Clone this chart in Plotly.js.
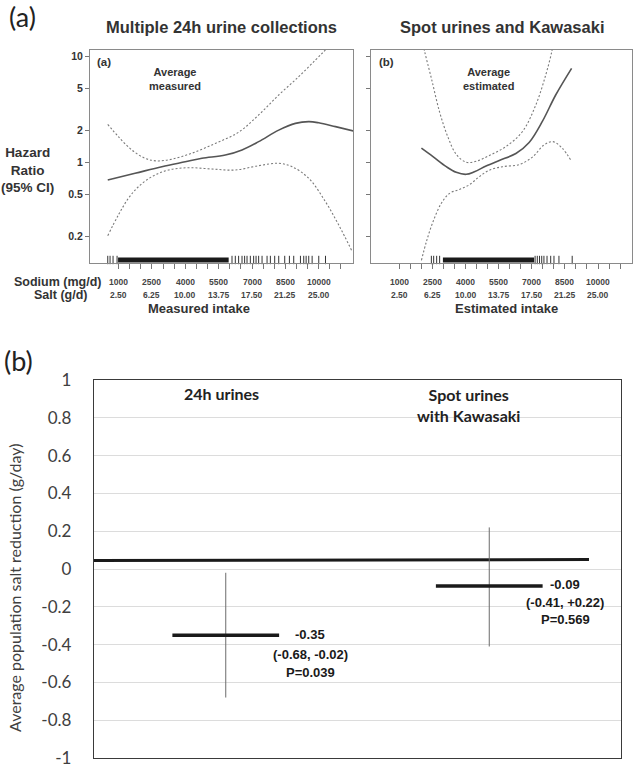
<!DOCTYPE html>
<html>
<head>
<meta charset="utf-8">
<script src="https://cdn.plot.ly/plotly-3.0.1.min.js"></script>
<style>html,body{margin:0;padding:0;background:#fff}#chart{width:634px;height:769px}</style>
</head>
<body>
<div id="chart"></div>
<script>
// ---------- Panel (a): hazard ratio splines ----------
const measSodium = [513, 1743, 2946, 3996, 4748, 5798, 6550, 7298, 8200, 8951, 9551, 10001, 10754, 11578];
const measHR     = [0.687, 0.794, 0.917, 1.02, 1.10, 1.18, 1.32, 1.58, 2.03, 2.35, 2.44, 2.38, 2.19, 1.99];
const measUpperX = [513, 991, 1595, 2194, 2721, 3397, 4298, 5347, 6397, 7298, 8200, 9100, 9852, 10303, 10800];
const measUpperHR= [2.30, 1.76, 1.32, 1.10, 1.04, 1.08, 1.23, 1.52, 1.94, 2.82, 4.35, 6.48, 9.3, 11.6, 15];
const measLowerX = [513, 991, 1441, 1892, 2496, 3243, 4145, 5199, 6248, 7298, 8200, 8802, 9551, 10303, 10901, 11506];
const measLowerHR= [0.205, 0.321, 0.461, 0.594, 0.738, 0.853, 0.897, 0.872, 0.853, 0.937, 0.987, 0.917, 0.713, 0.428, 0.258, 0.145];

const estSodium  = [2000, 2523, 3126, 3577, 4027, 4401, 4928, 5528, 6280, 6879, 7478, 8082, 8803];
const estHR      = [1.37, 1.14, 0.917, 0.811, 0.777, 0.822, 0.93, 1.05, 1.22, 1.55, 2.45, 4.35, 7.77];
const estUpperX  = [2080, 2149, 2450, 2824, 3198, 3577, 4027, 4478, 5077, 5829, 6577, 7181, 7631, 7902, 7980];
const estUpperHR = [13, 11.1, 6.25, 3.0, 1.75, 1.2, 1.01, 1.03, 1.17, 1.42, 1.97, 3.50, 6.72, 11.1, 14];
const estLowerX  = [2000, 2225, 2523, 2901, 3275, 3726, 4176, 4626, 5077, 5676, 6429, 7028, 7555, 7960, 8380, 8803];
const estLowerHR = [0.12, 0.18, 0.277, 0.414, 0.514, 0.56, 0.62, 0.74, 0.85, 0.917, 0.96, 1.13, 1.47, 1.58, 1.37, 1.03];

// rug of observations (mg/d): individual ticks and densely packed ranges
const measRugTicks = [513, 617, 752, 932, 6100, 6248, 6397, 6550, 6667, 6775, 6924, 7073, 7181, 7298, 7451,
                      7676, 7825, 8019, 8200, 8470, 8681, 8875, 9177, 9325, 9433, 9550, 9703, 10000, 10303];
const measRugDense = [977, 5950];
const estRugTicks  = [2450, 2554, 2690, 2825, 7150, 7250, 7350, 7450, 7550, 7690, 7856, 8005, 8230, 8830];
const estRugDense  = [2973, 7104];

const hrTickVals = [0.2, 0.5, 1, 2, 5, 10];
const hrTickText = ["0.2", "0.5", "1", "2", "5", "10"];
const sodiumMinorTicks = [1000,1500,2000,2500,3000,3500,4000,4500,5000,5500,6000,6500,7000,7500,8000,8500,9000,9500,10000,10500,11000];
const sodiumLabelVals = [1000, 2500, 4000, 5500, 7000, 8500, 10000];
const sodiumLabels = ["1000", "2500", "4000", "5500", "7000", "8500", "10000"];
const saltLabels = ["2.50", "6.25", "10.00", "13.75", "17.50", "21.25", "25.00"];

// ---------- Panel (b): average population salt reduction ----------
const groups = ["24h urines", "Spot urines<br>with Kawasaki"];
const groupPos = [1, 3];
const estimate = [-0.35, -0.09];
const ciLower = [-0.68, -0.41];
const ciUpper = [-0.02, 0.22];
const pValues = ["P=0.039", "P=0.569"];
const estLabels = ["-0.35", "-0.09"];
const ciLabels = ["(-0.68, -0.02)", "(-0.41, +0.22)"];
const refLineX = [0, 3.757];
const refLineY = [0.045, 0.05];
const reductionTicks = [1, 0.8, 0.6, 0.4, 0.2, 0, -0.2, -0.4, -0.6, -0.8, -1];
const reductionTickText = ["1", "0.8", "0.6", "0.4", "0.2", "0", "-0.2", "-0.4", "-0.6", "-0.8", "-1"];

// ---------- Layout geometry ----------
const W = 634, H = 769;
const px = v => v / W, py = v => 1 - v / H;
const HR_RANGE = [-0.946, 1.063];
const X_RANGE = [-285, 11540];
const rugY = Math.pow(10, HR_RANGE[0] + 3 / 106);

const ARIAL = "Arial, 'Liberation Sans', sans-serif";
const CAL = "Lato, 'Open Sans', sans-serif";
const solidLine = {color: "#555", width: 1.6, shape: "spline", smoothing: 1};
const dotLine = {color: "#7a7a7a", width: 1.1, dash: "2px,2px", shape: "spline", smoothing: 1};

function curve(x, y, xa, ya, line) {
  return {type: "scatter", mode: "lines", x: x, y: y, xaxis: xa, yaxis: ya, line: line, hoverinfo: "skip"};
}
function rug(ticks, dense, xa, ya) {
  return [
    {type: "scatter", mode: "markers", x: ticks, y: ticks.map(() => rugY), xaxis: xa, yaxis: ya,
     marker: {symbol: "line-ns", size: 6, line: {width: 1, color: "#333"}}, hoverinfo: "skip", cliponaxis: false},
    {type: "scatter", mode: "lines", x: dense, y: dense.map(() => rugY), xaxis: xa, yaxis: ya,
     line: {width: 5, color: "#1a1a1a"}, hoverinfo: "skip"}
  ];
}

const traces = [
  curve(measUpperX, measUpperHR, "x", "y", dotLine),
  curve(measLowerX, measLowerHR, "x", "y", dotLine),
  curve(measSodium, measHR, "x", "y", solidLine),
  ...rug(measRugTicks, measRugDense, "x", "y"),
  curve(estUpperX, estUpperHR, "x2", "y2", dotLine),
  curve(estLowerX, estLowerHR, "x2", "y2", dotLine),
  curve(estSodium, estHR, "x2", "y2", solidLine),
  ...rug(estRugTicks, estRugDense, "x2", "y2"),
  {type: "scatter", mode: "lines", x: refLineX, y: refLineY, xaxis: "x3", yaxis: "y3",
   line: {color: "#1a1a1a", width: 3}, hoverinfo: "skip"},
  {type: "scatter", mode: "markers", x: groupPos, y: estimate, xaxis: "x3", yaxis: "y3",
   marker: {size: 1, color: "rgba(0,0,0,0)"}, hoverinfo: "skip",
   error_y: {type: "data", symmetric: false,
             array: ciUpper.map((u, i) => u - estimate[i]),
             arrayminus: ciLower.map((l, i) => estimate[i] - l),
             color: "#6b6b6b", thickness: 1, width: 0},
   error_x: {type: "constant", value: 0.405, color: "#1a1a1a", thickness: 3.5, width: 0}}
];

const topAxisX = {
  range: X_RANGE, tickmode: "array", tickvals: sodiumMinorTicks, showticklabels: false,
  ticks: "outside", ticklen: 5, tickcolor: "#777", tickwidth: 1,
  showline: true, mirror: true, linecolor: "#8a8a8a", linewidth: 1,
  showgrid: false, zeroline: false, fixedrange: true
};
const topAxisY = {
  type: "log", range: HR_RANGE, tickmode: "array", tickvals: hrTickVals, ticktext: hrTickText,
  ticks: "outside", ticklen: 4, tickcolor: "#777",
  tickfont: {family: ARIAL, size: 10.5, color: "#333", weight: "bold"},
  showline: true, mirror: true, linecolor: "#8a8a8a", linewidth: 1,
  showgrid: false, zeroline: false, fixedrange: true
};

const ann = [];
function txt(text, x, y, size, opts) {
  ann.push(Object.assign({text: text, x: x, y: y, xref: "paper", yref: "paper", showarrow: false,
    xanchor: "center", yanchor: "middle",
    font: {family: ARIAL, size: size, color: "#333", weight: "bold"}}, opts || {}));
}
// panel letters
txt("(a)", px(22), py(17), 27, {font: {family: CAL, size: 27, color: "#222"}});
txt("(b)", px(18), py(360), 27, {font: {family: CAL, size: 27, color: "#222"}});
// top titles
txt("Multiple 24h urine collections", px(221.5), py(27), 16.5);
txt("Spot urines and Kawasaki", px(502), py(27), 16.5);
txt("Hazard<br>Ratio<br>(95% CI)", px(27), py(170), 13.5);
txt("(a)", px(95), py(62), 11.5, {xanchor: "left"});
txt("(b)", px(377), py(62), 11.5, {xanchor: "left"});
txt("Average<br>measured", px(175), py(79), 11);
txt("Average<br>estimated", px(488), py(79), 11);
txt("Sodium (mg/d)", px(58), py(282), 12.5);
txt("Salt (g/d)", px(60), py(295), 12.5);
txt("Measured intake", px(199), py(308), 13);
txt("Estimated intake", px(506), py(308), 13);
// x tick labels (two rows) for both top panels
["x", "x2"].forEach(xr => {
  sodiumLabelVals.forEach((v, i) => {
    ann.push({text: sodiumLabels[i], x: v, y: py(282), xref: xr, yref: "paper", showarrow: false,
      xanchor: "center", yanchor: "middle", font: {family: ARIAL, size: 8.5, color: "#444", weight: "bold"}});
    ann.push({text: saltLabels[i], x: v, y: py(295), xref: xr, yref: "paper", showarrow: false,
      xanchor: "center", yanchor: "middle", font: {family: ARIAL, size: 8.5, color: "#444", weight: "bold"}});
  });
});
// bottom panel
const groupLabelY = [0.926, 0.87];
groups.forEach((g, i) => {
  ann.push({text: g, x: [0.964, 2.84][i], y: groupLabelY[i], xref: "x3", yref: "y3", showarrow: false,
    xanchor: "center", yanchor: "middle", font: {family: CAL, size: 16, color: "#222", weight: "bold"}});
});
const labelX = [1.64, 3.575];
groupPos.forEach((g, i) => {
  const lines = [estLabels[i], ciLabels[i], pValues[i]];
  const ys = i === 0 ? [-0.347, -0.452, -0.547] : [-0.084, -0.179, -0.268];
  lines.forEach((t, j) => {
    ann.push({text: t, x: labelX[i], y: ys[j], xref: "x3", yref: "y3", showarrow: false,
      xanchor: "center", yanchor: "middle", font: {family: ARIAL, size: 13, color: "#1a1a1a", weight: "bold"}});
  });
});
txt("Average population salt reduction (g/day)", px(14), py(588), 16,
  {textangle: -90, font: {family: CAL, size: 16, color: "#404040"}});

const layout = {
  width: W, height: H, margin: {l: 0, r: 0, t: 0, b: 0},
  paper_bgcolor: "#fff", plot_bgcolor: "#fff", showlegend: false,
  xaxis: Object.assign({}, topAxisX, {domain: [px(90), px(353)], anchor: "y"}),
  yaxis: Object.assign({}, topAxisY, {domain: [py(263), py(50)], anchor: "x"}),
  xaxis2: Object.assign({}, topAxisX, {domain: [px(371), px(632)], anchor: "y2"}),
  yaxis2: Object.assign({}, topAxisY, {domain: [py(263), py(50)], anchor: "x2", showticklabels: false}),
  xaxis3: {domain: [px(94), px(621)], anchor: "y3", range: [0, 4], showticklabels: false, ticks: "",
           showline: true, mirror: true, linecolor: "#3a3a3a", linewidth: 1.2,
           showgrid: false, zeroline: false, fixedrange: true},
  yaxis3: {domain: [py(758), py(380)], anchor: "x3", range: [-1, 1], tickmode: "array",
           tickvals: reductionTicks, ticktext: reductionTickText, ticks: "",
           tickfont: {family: CAL, size: 17, color: "#404040"}, ticklabelstandoff: 18,
           ticklabeloverflow: "allow",
           showgrid: true, gridcolor: "#dcdcdc", gridwidth: 1, zeroline: false,
           showline: true, mirror: true, linecolor: "#3a3a3a", linewidth: 1.2, fixedrange: true},
  annotations: ann
};

Plotly.newPlot("chart", traces, layout, {staticPlot: true, displayModeBar: false});
</script>
</body>
</html>
